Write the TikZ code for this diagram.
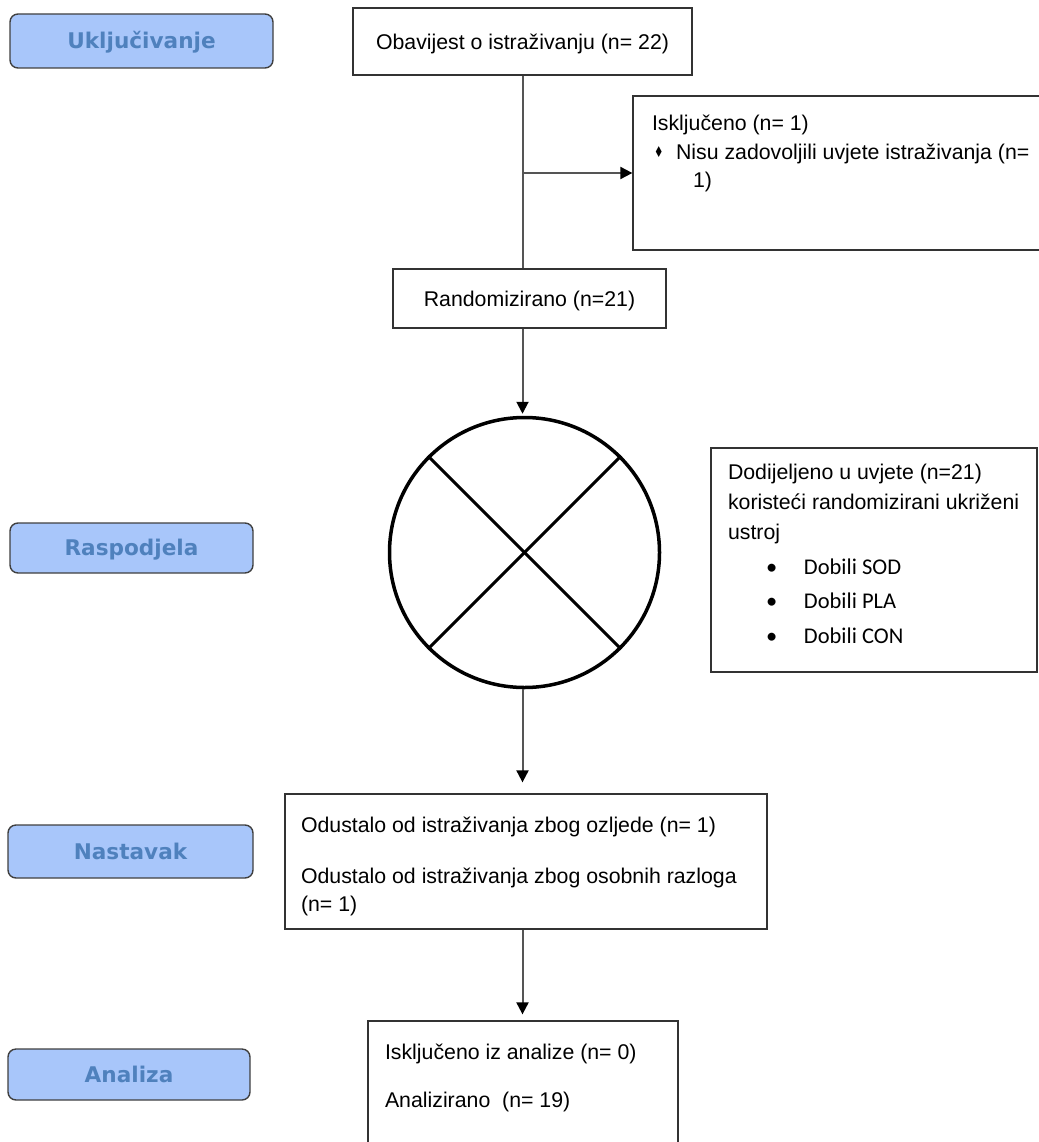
\documentclass[tikz,border=0pt]{standalone}
\usepackage{fontspec}
\setmainfont{Liberation Sans}
\newfontfamily\labfont{DejaVu Sans}
\newfontfamily\calfont{Carlito}
\newfontfamily\symfont{DejaVu Sans}
\usetikzlibrary{positioning, arrows.meta}
\definecolor{labfill}{HTML}{A8C6FA}
\definecolor{labtext}{HTML}{4F81BD}
\definecolor{labline}{HTML}{404040}
\definecolor{boxline}{HTML}{333333}
\definecolor{linkgray}{HTML}{555555}
\tikzstyle{stage} = [rectangle, rounded corners=8pt, draw=labline, line width=1.4pt, fill=labfill, text=labtext, font=\labfont\bfseries\fontsize{21.6pt}{25pt}\selectfont, text height=15.7pt, text depth=0pt]
\tikzstyle{box} = [rectangle, draw=boxline, line width=1.3pt, inner sep=0pt]
\tikzstyle{onebox} = [box, text height=15.3pt, text depth=0pt]
\tikzstyle{ring} = [circle, draw=black, line width=3.5pt, minimum size=270pt, inner sep=0pt]
\tikzstyle{link} = [line width=2pt, draw=linkgray]
\tikzstyle{arrow} = [link, -{Triangle[length=12pt,width=12pt,color=black]}]
% text block in a box: height, width, left padding, first baseline, text
\newcommand{\inbox}[5]{\parbox[c][#1][t]{#2}{\raggedright\leftskip=#3\relax\rule{0pt}{#4}#5}}

\begin{document}
\begin{tikzpicture}[x=1pt, y=1pt, node distance=250pt, font=\fontsize{21.3pt}{28.5pt}\selectfont]
\useasboundingbox (0,0) rectangle (1038,-1142);

\node (obav) [onebox, minimum width=339pt, minimum height=67pt] at (522.5,-41.5) {Obavijest o istraživanju (n= 22)};
\node (rand) [onebox, below of=obav, xshift=7pt, yshift=-7pt, minimum width=273pt, minimum height=59pt] {Randomizirano (n=21)};
\node (circ) [ring, below of=rand, xshift=-5pt, yshift=-4pt] {};
\node (odust) [box, below of=circ, xshift=1.5pt, yshift=-59pt] {\inbox{135pt}{482pt}{16pt}{38.6pt}{Odustalo od istraživanja zbog ozljede (n= 1)\\[22pt]Odustalo od istraživanja zbog osobnih razloga\\(n= 1)}};
\node (analiz) [box, below of=odust, xshift=-3pt, yshift=1.5pt] {\inbox{178pt}{310pt}{17pt}{38.6pt}{Isključeno iz analize (n= 0)\\[19.5pt]Analizirano~ (n= 19)}};

\node (iskl) [box, right of=obav, xshift=69pt, yshift=-131.5pt] {\inbox{154pt}{417pt}{19pt}{34.6pt}{Isključeno (n= 1)\\\hspace*{2pt}\makebox[22pt][l]{\symfont\fontsize{15pt}{15pt}\selectfont\raisebox{1.5pt}{\scalebox{0.7}[1]{♦}}}Nisu zadovoljili uvjete istraživanja (n=\\\hspace*{41pt}1)}};
\node (dodij) [box, right of=circ, xshift=99.5pt, yshift=-7.5pt] {\inbox{224pt}{326pt}{17pt}{31.6pt}{\fontsize{21.3pt}{30pt}\selectfont Dodijeljeno u uvjete (n=21)\\koristeći randomizirani ukriženi\\ustroj\par
\calfont\fontsize{22.5pt}{34.5pt}\selectfont
\hspace*{38pt}\makebox[38pt][l]{•}Dobili SOD\\
\hspace*{38pt}\makebox[38pt][l]{•}Dobili PLA\\
\hspace*{38pt}\makebox[38pt][l]{•}Dobili CON}};

\node (lab1) [stage, left of=obav, xshift=-131pt, yshift=0.5pt, minimum width=263pt, minimum height=54pt] {Uključivanje};
\node (lab2) [stage, left of=circ, xshift=-143pt, yshift=4.5pt, minimum width=243pt, minimum height=50pt] {Raspodjela};
\node (lab3) [stage, left of=odust, xshift=-145.5pt, yshift=10pt, minimum width=245pt, minimum height=53pt] {Nastavak};
\node (lab4) [stage, left of=analiz, xshift=-144pt, yshift=35.5pt, minimum width=242pt, minimum height=51pt] {Analiza};

\draw [line width=3pt] (circ.north west) -- (circ.south east);
\draw [line width=3pt] (circ.north east) -- (circ.south west);

\draw [link] (obav.south) -- (obav.south |- rand.north);
\draw [arrow] (obav.south |- iskl.west) -- (iskl.west);
\draw [arrow, shorten >=2pt] (obav.south |- rand.south) -- (obav.south |- circ.north);
\draw [arrow, shorten >=11pt] (obav.south |- circ.south) -- (obav.south |- odust.north);
\draw [arrow, shorten >=6pt] (obav.south |- odust.south) -- (obav.south |- analiz.north);

\end{tikzpicture}
\end{document}
